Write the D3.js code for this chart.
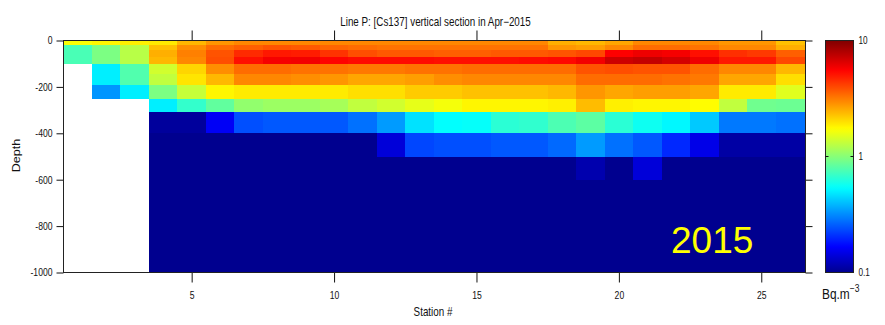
<!DOCTYPE html>
<html><head><meta charset="utf-8">
<script src="https://cdn.jsdelivr.net/npm/d3@7"></script>
<style>
body{margin:0;background:#fff}
svg{display:block}
text{font-family:"Liberation Sans",Arial,Helvetica,sans-serif;fill:#111}
</style>
</head><body>
<svg id="c" width="885" height="325"></svg>
<script>
// ---- data ----
const stations = [1,2,3,4,5,6,7,8,9,10,11,12,13,14,15,16,17,18,19,20,21,22,23,24,25,26];
const depthEdges = [0,20,40,70,100,145,190,250,310,400,500,600,1000];
const xTicks = [5,10,15,20,25];
const yTicks = [0,-200,-400,-600,-800,-1000];
const colorTicks = [0.1,1,10];
const title = "Line P: [Cs137] vertical section in Apr\u22122015";
const yearLabel = "2015";
// Cs137 (Bq/m3) per station, one value per depth layer (depthEdges); null = no sample
const cs137 = [
 [1.7,0.75,0.75,0.75,null,null,null,null,null,null,null,null],
 [1.8,0.95,0.95,0.95,0.5,0.5,0.33,null,null,null,null,null],
 [1.85,1.25,1.25,1.25,0.78,0.78,0.5,null,null,null,null,null],
 [1.9,2.3,2.5,2.4,1.4,1.3,0.95,0.5,0.106,0.1,0.1,0.1],
 [2.4,2.9,3.1,3.0,2.1,1.95,1.33,0.68,0.106,0.1,0.1,0.1],
 [2.8,3.4,3.8,3.9,2.9,2.4,1.8,0.84,0.16,0.1,0.1,0.1],
 [3.0,3.6,4.6,5.2,3.4,3.0,1.9,1.05,0.24,0.1,0.1,0.1],
 [3.0,3.8,5.0,5.8,3.4,3.0,1.9,1.1,0.25,0.1,0.1,0.1],
 [3.0,3.7,4.9,5.9,3.3,2.9,1.9,1.1,0.25,0.1,0.1,0.1],
 [3.0,3.5,4.4,5.5,3.3,2.8,1.9,1.15,0.25,0.1,0.1,0.1],
 [3.0,3.4,3.9,5.3,3.2,2.6,2.0,1.3,0.28,0.1,0.1,0.1],
 [3.0,3.3,3.7,5.3,3.2,2.6,2.0,1.4,0.34,0.14,0.1,0.1],
 [3.0,3.3,3.7,5.3,3.3,2.7,2.2,1.55,0.47,0.23,0.1,0.1],
 [3.0,3.3,3.6,5.2,3.3,2.9,2.2,1.65,0.54,0.24,0.1,0.1],
 [3.0,3.3,3.6,5.2,3.4,3.0,2.3,1.8,0.55,0.24,0.1,0.1],
 [3.0,3.3,3.7,5.2,3.4,3.0,2.3,1.8,0.65,0.25,0.1,0.1],
 [3.0,3.3,3.7,5.3,3.4,3.0,2.3,1.8,0.67,0.25,0.1,0.1],
 [2.5,2.8,3.8,5.4,3.4,3.0,2.4,1.85,0.76,0.27,0.1,0.1],
 [2.4,2.7,4.0,5.9,3.8,3.4,2.8,2.35,0.82,0.34,0.115,0.1],
 [2.6,3.0,5.6,7.0,3.9,3.4,2.6,1.85,0.65,0.28,0.1,0.1],
 [3.0,3.4,6.0,7.3,3.8,3.4,2.7,1.8,0.57,0.25,0.14,0.1],
 [3.0,3.4,5.8,6.8,3.8,3.3,2.7,1.8,0.52,0.2,0.1,0.1],
 [3.0,3.3,5.2,6.0,3.4,3.2,2.6,1.75,0.42,0.15,0.1,0.1],
 [2.8,3.0,4.5,5.0,3.0,2.6,1.9,1.3,0.29,0.11,0.1,0.1],
 [2.8,3.0,4.3,5.0,3.0,2.6,1.9,0.9,0.29,0.11,0.1,0.1],
 [2.3,2.5,3.6,4.0,2.4,2.0,1.5,0.88,0.28,0.11,0.1,0.1]
];

// ---- helpers ----
function jet(t){
  const u = 1/64 + t*63/64;
  const c = v => Math.max(0, Math.min(1, v));
  const r = c(1.5 - Math.abs(4*u - 3)), g = c(1.5 - Math.abs(4*u - 2)), b = c(1.5 - Math.abs(4*u - 1));
  return d3.rgb(r*255, g*255, b*255).formatHex();
}
const SX = 0.82; // horizontal text compression seen in the figure

const svg = d3.select('#c');
const pL = 63.5, pR = 804, pRF = 805.5, pT = 40.5, pB = 272.5;
const x = d3.scaleLinear().domain([0.5, 26.5]).range([pL, pR]);
const y = d3.scaleLinear().domain([-1000, 0]).range([pB, pT]);
const color = d3.scaleSequentialLog(jet).domain([0.1, 10]).clamp(true);

// ---- cells ----
const cells = [];
stations.forEach((s, i) => cs137[i].forEach((v, j) => {
  if (v != null) cells.push({s, d0: depthEdges[j], d1: depthEdges[j+1], v});
}));
svg.append('g').attr('shape-rendering','crispEdges')
  .selectAll('rect').data(cells).join('rect')
  .attr('x', d => x(d.s - 0.5))
  .attr('width', d => x(d.s + 0.5) - x(d.s - 0.5) + 0.5)
  .attr('y', d => y(-d.d0))
  .attr('height', d => y(-d.d1) - y(-d.d0) + 0.5)
  .attr('fill', d => color(d.v));

// ---- axes ----
function styleAxis(g){
  g.select('.domain').remove();
  g.selectAll('.tick line').attr('stroke','#111');
}
const gl = svg.append('g').attr('transform',`translate(${pL},0)`)
  .call(d3.axisLeft(y).tickValues(yTicks).tickSize(7).tickFormat(d => String(d)))
  .call(styleAxis);
gl.selectAll('text').attr('font-size','10.5px').attr('x', -11/SX).attr('transform',`scale(${SX},1)`).style('font-family','"Liberation Sans",Arial,sans-serif');

svg.append('g').attr('transform',`translate(${pRF},0)`)
  .call(d3.axisRight(y).tickValues(yTicks).tickSize(7).tickFormat(''))
  .call(styleAxis);

const gb = svg.append('g').attr('transform',`translate(0,${pB})`)
  .call(d3.axisBottom(x).tickValues(xTicks).tickSize(10).tickFormat(d => String(d)))
  .call(styleAxis);
gb.selectAll('text').attr('font-size','10.5px').attr('y', 19).attr('x', 0).attr('transform',`scale(${SX},1)`).style('font-family','"Liberation Sans",Arial,sans-serif');

svg.append('g').attr('transform',`translate(0,${pT})`)
  .call(d3.axisTop(x).tickValues(xTicks).tickSize(10).tickFormat(''))
  .call(styleAxis);

// frame
svg.append('rect').attr('x',pL).attr('y',pT).attr('width',pRF-pL).attr('height',pB-pT)
  .attr('fill','none').attr('stroke','#222').attr('stroke-width',1);

// ---- titles ----
svg.append('text').attr('transform',`translate(435.5,26) scale(${SX},1)`)
  .attr('text-anchor','middle').attr('font-size','12px').text(title);
svg.append('text').attr('transform',`translate(433,316) scale(${SX},1)`)
  .attr('text-anchor','middle').attr('font-size','12px').text('Station #');
svg.append('text').attr('transform',`translate(20,155.5) scale(${SX},1) rotate(-90)`)
  .attr('text-anchor','middle').attr('font-size','12.5px').text('Depth');
svg.append('text').attr('x',671).attr('y',253).attr('font-size','37px')
  .style('fill','#ffff00').text(yearLabel);

// ---- colorbar ----
const cbx0 = 825.5, cbx1 = 853.5;
const cb = d3.scaleLog().domain([0.1, 10]).range([pB, pT]);
const grad = svg.append('defs').append('linearGradient').attr('id','jetg')
  .attr('x1',0).attr('y1',1).attr('x2',0).attr('y2',0);
d3.range(0, 1.0001, 1/64).forEach(t => grad.append('stop').attr('offset', t).attr('stop-color', jet(t)));
svg.append('rect').attr('x',cbx0).attr('y',pT).attr('width',cbx1-cbx0).attr('height',pB-pT)
  .attr('fill','url(#jetg)').attr('stroke','#222').attr('stroke-width',1);
const gc = svg.append('g').attr('transform',`translate(${cbx1},0)`)
  .call(d3.axisRight(cb).tickValues(colorTicks).tickSize(0).tickPadding(5).tickFormat(d => String(d)));
gc.select('.domain').remove();
gc.selectAll('text').attr('font-size','10px').attr('x', 5/SX).attr('transform',`scale(${SX},1)`).style('font-family','"Liberation Sans",Arial,sans-serif');
svg.append('g').selectAll('line').data(colorTicks.slice(1,2)).join('line')
  .attr('x1',cbx0).attr('x2',cbx0+3).attr('y1',d=>cb(d)).attr('y2',d=>cb(d)).attr('stroke','#111');
svg.append('g').selectAll('line').data(colorTicks.slice(1,2)).join('line')
  .attr('x1',cbx1-3).attr('x2',cbx1).attr('y1',d=>cb(d)).attr('y2',d=>cb(d)).attr('stroke','#111');

const unit = svg.append('text').attr('transform',`translate(822,299) scale(0.85,1)`).attr('font-size','14px');
unit.append('tspan').text('Bq.m');
unit.append('tspan').attr('dy',-7).attr('font-size','10px').text('\u22123');
</script>
</body></html>
